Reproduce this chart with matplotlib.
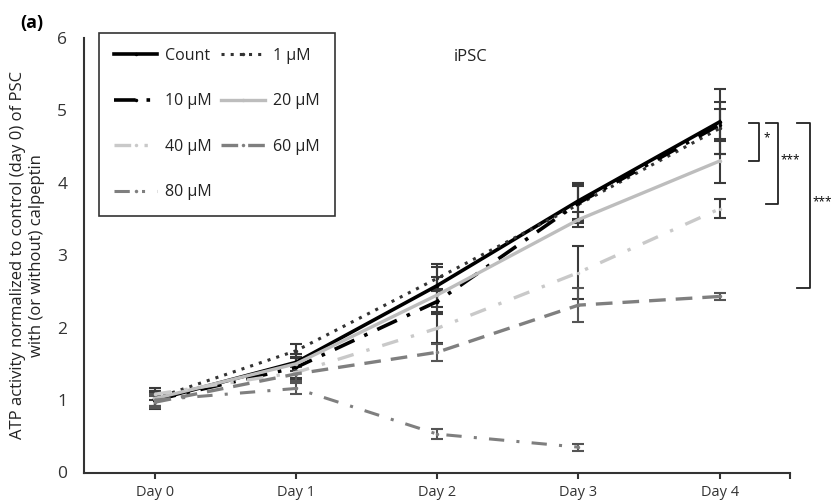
import numpy as np
import matplotlib
matplotlib.use("Agg")
import matplotlib.pyplot as plt
from matplotlib.lines import Line2D

plt.rcParams['font.family'] = ['Open Sans', 'DejaVu Sans']

days = ['Day 0', 'Day 1', 'Day 2', 'Day 3', 'Day 4']

# values
count = [1.00, 1.52, 2.58, 3.75, 4.84]
count_err = [0.12, 0.12, 0.30, 0.25, 0.45]
um1 = [1.02, 1.68, 2.68, 3.70, 4.75]
um1_err = [0.10, 0.10, 0.15, 0.25, 0.36]
um10 = [1.00, 1.45, 2.36, 3.72, 4.80]
um10_err = [0.10, 0.15, 0.15, 0.25, 0.22]
um20 = [1.02, 1.50, 2.45, 3.49, 4.30]
um20_err = [0.10, 0.10, 0.25, 0.10, 0.30]
um40 = [1.08, 1.38, 1.99, 2.76, 3.64]
um40_err = [0.08, 0.10, 0.20, 0.37, 0.13]
um60 = [0.97, 1.36, 1.66, 2.31, 2.43]
um60_err = [0.08, 0.10, 0.12, 0.23, 0.05]
um80 = [1.00, 1.16, 0.53, 0.35]
um80_err = [0.08, 0.07, 0.07, 0.05]

series = [
    ('Count', count, count_err, dict(color='black', lw=2.6, ls='-')),
    ('1 µM', um1, um1_err, dict(color='#333333', lw=2.2, ls=(0, (1, 2)))),
    ('10 µM', um10, um10_err, dict(color='black', lw=2.6, ls=(0, (6, 3, 1, 3)))),
    ('20 µM', um20, um20_err, dict(color='#bdbdbd', lw=2.4, ls='-')),
    ('40 µM', um40, um40_err, dict(color='#c9c9c9', lw=2.4, ls=(0, (5, 4, 1, 4)))),
    ('60 µM', um60, um60_err, dict(color='#7f7f7f', lw=2.4, ls=(0, (5, 3)))),
    ('80 µM', um80, um80_err, dict(color='#7f7f7f', lw=2.2, ls=(0, (5, 4, 1, 4)))),
]

fig = plt.figure(figsize=(8.32, 5.04), dpi=100)
ax = fig.add_axes([0.101, 0.0625, 0.849, 0.8625])

handles = {}
for name, vals, err, st in series:
    x = np.arange(len(vals))
    ax.errorbar(x, vals, yerr=err, fmt='none', ecolor='#3a3a3a' if st['color'] != '#7f7f7f' else '#555555',
                elinewidth=1.5, capsize=4.5, capthick=1.5, zorder=2)
    ax.plot(x, vals, color=st['color'], lw=st['lw'], ls=st['ls'], zorder=3,
            marker='o', ms=2.5, markeredgewidth=0)
    handles[name] = Line2D([], [], color=st['color'], lw=st['lw'], ls=st['ls'], marker='o', ms=2.5,
                           markeredgewidth=0)

order = ['Count', '10 µM', '40 µM', '80 µM', '1 µM', '20 µM', '60 µM']
leg = ax.legend([handles[n] for n in order], order, ncol=2, loc='upper left',
                bbox_to_anchor=(0.021, 1.012), frameon=True, fancybox=False,
                edgecolor='black', fontsize=11.5, handlelength=2.7, labelspacing=1.85,
                columnspacing=0.6, borderpad=0.95, handletextpad=0.5, borderaxespad=0)
leg.get_frame().set_linewidth(1.2)
for t in leg.get_texts():
    t.set_color('#222222')

ax.set_xlim(-0.5, 4.5)
ax.set_ylim(0, 6)
ax.set_yticks(range(0, 7))
ax.set_xticks([0, 1, 2, 3, 4, 4.5])
ax.set_xticklabels(days + [''])
ax.tick_params(axis='y', length=0, labelsize=12.5, pad=12, colors='#333333')
ax.tick_params(axis='x', length=4, width=1.5, labelsize=10.5, pad=5, colors='#333333')
ax.spines['top'].set_visible(False)
ax.spines['right'].set_visible(False)
for s in ['left', 'bottom']:
    ax.spines[s].set_linewidth(1.5)
    ax.spines[s].set_color('#333333')

ax.set_ylabel('ATP activity normalized to control (day 0) of PSC\nwith (or without) calpeptin',
              fontsize=12, labelpad=9, color='#222222')
ax.text(2.24, 5.74, 'iPSC', fontsize=12, ha='center', va='center', color='#222222')
fig.text(0.024, 0.955, '(a)', fontsize=13, fontweight='bold', ha='left', va='center')

# significance brackets on the right
brackets = [(4.21, 4.28, 4.83, 4.30, '*', 4.31),
            (4.33, 4.41, 4.83, 3.71, '***', 4.43),
            (4.55, 4.64, 4.83, 2.54, '***', 4.655)]
for x0, x1, ytop, ybot, lab, xt in brackets:
    ax.plot([x0, x1, x1, x0], [ytop, ytop, ybot, ybot], color='#222222', lw=1.3, clip_on=False)
    ax.text(xt, (ytop + ybot) / 2 + 0.05, lab, fontsize=8.5, ha='left', va='center', clip_on=False)

fig.savefig('out.png', dpi=100)
